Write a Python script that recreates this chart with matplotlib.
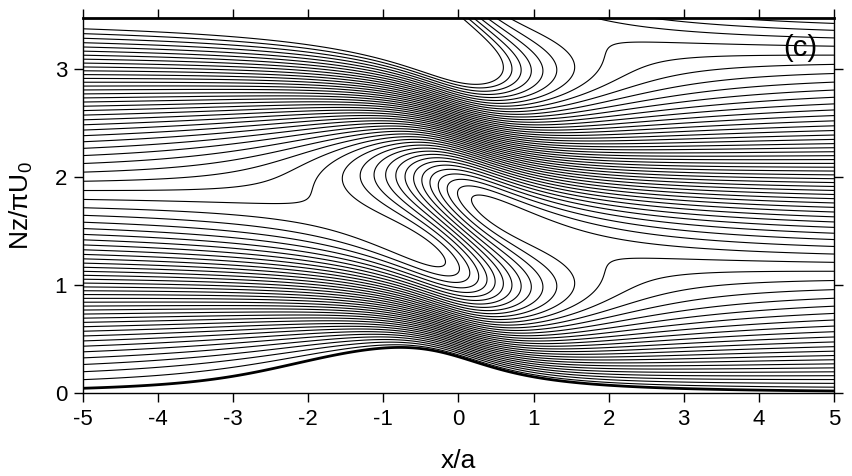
import numpy as np
import matplotlib
matplotlib.use("Agg")
import matplotlib.pyplot as plt

# ---- values ----
hill_height = 2.13      # N h / U0 of the Witch of Agnesi hill
hill_width = 1.0        # a (x is in units of a)
level_step = 0.05       # spacing of undisturbed streamline heights (Nz/piU0)
level_top = 3.5
x_ticks = [-5, -4, -3, -2, -1, 0, 1, 2, 3, 4, 5]
y_ticks = [0, 1, 2, 3]
x_range = (-5, 5)
y_range = (0, 3.47)
panel_label = "(c)"

# ---- Long's model streamfunction: Z0 = Z - delta(x, Z) ----
x = np.linspace(x_range[0], x_range[1], 1200)
y = np.linspace(0, 3.6, 1000)
X, Y = np.meshgrid(x, y)
Z = np.pi * Y
delta = hill_height * hill_width * (hill_width * np.cos(Z) - X * np.sin(Z)) / (X**2 + hill_width**2)
psi = (Z - delta) / np.pi

levels = np.arange(level_step, level_top + 1e-9, level_step)

plt.rcParams['font.family'] = ['Liberation Sans', 'DejaVu Sans']
plt.rcParams['axes.unicode_minus'] = False
plt.rcParams['mathtext.fontset'] = 'custom'
plt.rcParams['mathtext.rm'] = 'Liberation Sans'
plt.rcParams['mathtext.it'] = 'Liberation Sans:italic'

fig = plt.figure(figsize=(8.53, 4.76), dpi=100)
ax = fig.add_axes([0.0973, 0.1744, 0.8804, 0.7878])

ax.contour(X, Y, psi, levels=levels, colors='black', linewidths=0.8)
ax.contour(X, Y, psi, levels=[0.0], colors='black', linewidths=2.0)

ax.set_xlim(*x_range)
ax.set_ylim(*y_range)
ax.set_xticks(x_ticks)
ax.set_yticks(y_ticks)
ax.tick_params(direction='out', length=6.5, width=1, labelsize=16,
               top=True, right=True, pad=5)
for s in ax.spines.values():
    s.set_linewidth(1)
ax.spines['top'].set_linewidth(2)

ax.set_xlabel("x/a", fontsize=19, labelpad=14)
ax.set_ylabel(r"Nz/πU$_\mathregular{0}$", fontsize=19, labelpad=14)
ax.text(4.55, 3.19, panel_label, fontsize=21, ha='center', va='center')

fig.savefig("out.png", dpi=100)
